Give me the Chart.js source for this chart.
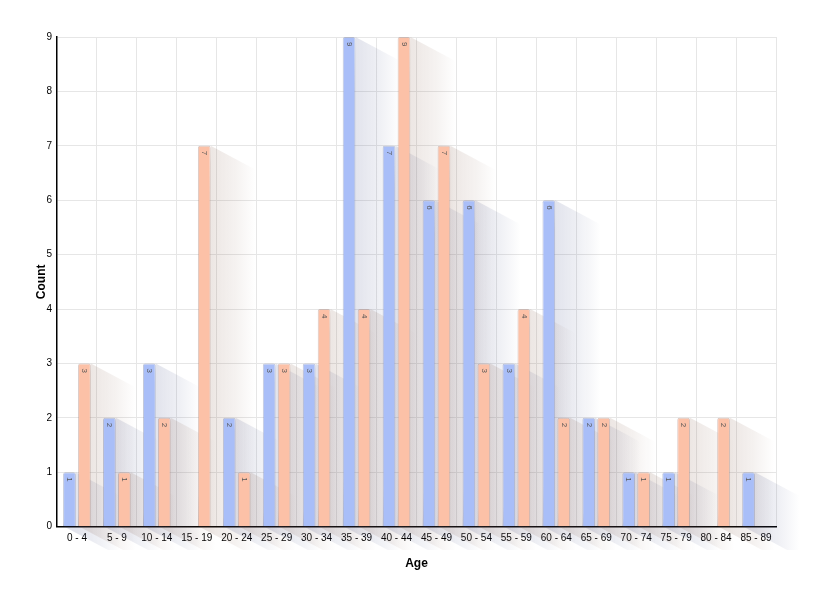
<!DOCTYPE html>
<html lang="en">
<head>
    <meta charset="utf-8" />
    <title>Age</title>
    <script src="https://cdn.jsdelivr.net/npm/chart.js@4.4.0/dist/chart.umd.min.js"></script>
    <style>
        html, body { margin: 0; padding: 0; background: #fff; }
        canvas { display: block; }
    </style>
</head>
<body>
    <canvas id="chart" width="830" height="601"></canvas>
    <script>
        // Данные
        const ageGroups = ['0 - 4', '5 - 9', '10 - 14', '15 - 19', '20 - 24', '25 - 29', '30 - 34', '35 - 39', '40 - 44',
            '45 - 49', '50 - 54', '55 - 59', '60 - 64', '65 - 69', '70 - 74', '75 - 79', '80 - 84', '85 - 89'];
        const blueCounts = [1, 2, 3, 0, 2, 3, 3, 9, 7, 6, 6, 3, 6, 2, 1, 1, 0, 1];
        const salmonCounts = [3, 1, 2, 7, 1, 3, 4, 4, 9, 7, 3, 4, 2, 2, 1, 2, 2, 0];
        const yTicks = [0, 1, 2, 3, 4, 5, 6, 7, 8, 9];

        const shadowColors = ['60, 72, 130', '130, 90, 70'];

        // Длинная тень от столбцов
        const longShadow = {
            id: 'longShadow',
            beforeDatasetsDraw(chart) {
                const ctx = chart.ctx;
                const dx = 45, dy = 24;
                chart.data.datasets.forEach((ds, di) => {
                    const meta = chart.getDatasetMeta(di);
                    meta.data.forEach((bar, i) => {
                        if (!ds.data[i]) return;
                        const p = bar.getProps(['x', 'y', 'base', 'width'], true);
                        const l = p.x - p.width / 2, r = p.x + p.width / 2;
                        const grad = ctx.createLinearGradient(r, 0, r + dx, 0);
                        grad.addColorStop(0, 'rgba(' + shadowColors[di] + ', 0.15)');
                        grad.addColorStop(0.55, 'rgba(' + shadowColors[di] + ', 0.08)');
                        grad.addColorStop(1, 'rgba(' + shadowColors[di] + ', 0)');
                        ctx.save();
                        ctx.beginPath();
                        ctx.moveTo(r, p.y);
                        ctx.lineTo(r + dx, p.y + dy);
                        ctx.lineTo(r + dx, p.base + dy);
                        ctx.lineTo(l + dx, p.base + dy);
                        ctx.lineTo(l, p.base);
                        ctx.closePath();
                        ctx.fillStyle = grad;
                        ctx.fill();
                        ctx.restore();
                    });
                });
            }
        };

        // Подписи значений внутри столбцов
        const barLabels = {
            id: 'barLabels',
            afterDatasetsDraw(chart) {
                const ctx = chart.ctx;
                chart.data.datasets.forEach((ds, di) => {
                    const meta = chart.getDatasetMeta(di);
                    meta.data.forEach((bar, i) => {
                        if (!ds.data[i]) return;
                        const p = bar.getProps(['x', 'y'], true);
                        ctx.save();
                        ctx.translate(p.x, p.y + 5);
                        ctx.rotate(Math.PI / 2);
                        ctx.font = '8px "Liberation Sans", Arial, sans-serif';
                        ctx.fillStyle = '#555';
                        ctx.textAlign = 'left';
                        ctx.textBaseline = 'middle';
                        ctx.fillText(String(ds.data[i]), 0, 0);
                        ctx.restore();
                    });
                });
            }
        };

        Chart.defaults.font.family = '"Liberation Sans", Arial, sans-serif';
        Chart.defaults.color = '#000';

        const barStyle = {
            borderWidth: 1,
            borderRadius: 2,
            borderSkipped: 'bottom',
            categoryPercentage: 0.75,
            barPercentage: 0.85
        };

        new Chart(document.getElementById('chart').getContext('2d'), {
            type: 'bar',
            data: {
                labels: ageGroups,
                datasets: [
                    Object.assign({ label: 'A', data: blueCounts, backgroundColor: '#a9bef8', borderColor: 'rgba(120, 130, 170, 0.45)' }, barStyle),
                    Object.assign({ label: 'B', data: salmonCounts, backgroundColor: '#fcc1a7', borderColor: 'rgba(170, 130, 120, 0.45)' }, barStyle)
                ]
            },
            options: {
                responsive: false,
                animation: false,
                layout: { padding: { left: 30, right: 54, top: 37, bottom: 26 } },
                plugins: {
                    legend: { display: false },
                    tooltip: { enabled: false }
                },
                scales: {
                    x: {
                        grid: { color: '#e6e6e6', drawTicks: false, offset: true },
                        border: { color: '#000', width: 1.5 },
                        ticks: { font: { size: 10 }, padding: 6, maxRotation: 0 },
                        title: { display: true, text: 'Age', font: { size: 12, weight: 'bold' }, padding: { top: 6 } }
                    },
                    y: {
                        min: 0,
                        max: 9,
                        afterBuildTicks(axis) { axis.ticks = yTicks.map(v => ({ value: v })); },
                        grid: { color: '#e6e6e6', drawTicks: false },
                        border: { color: '#000', width: 1.5 },
                        ticks: { font: { size: 10 }, padding: 5 },
                        title: { display: true, text: 'Count', font: { size: 12, weight: 'bold' }, padding: { bottom: -7 } }
                    }
                }
            },
            plugins: [longShadow, barLabels]
        });
    </script>
</body>
</html>
